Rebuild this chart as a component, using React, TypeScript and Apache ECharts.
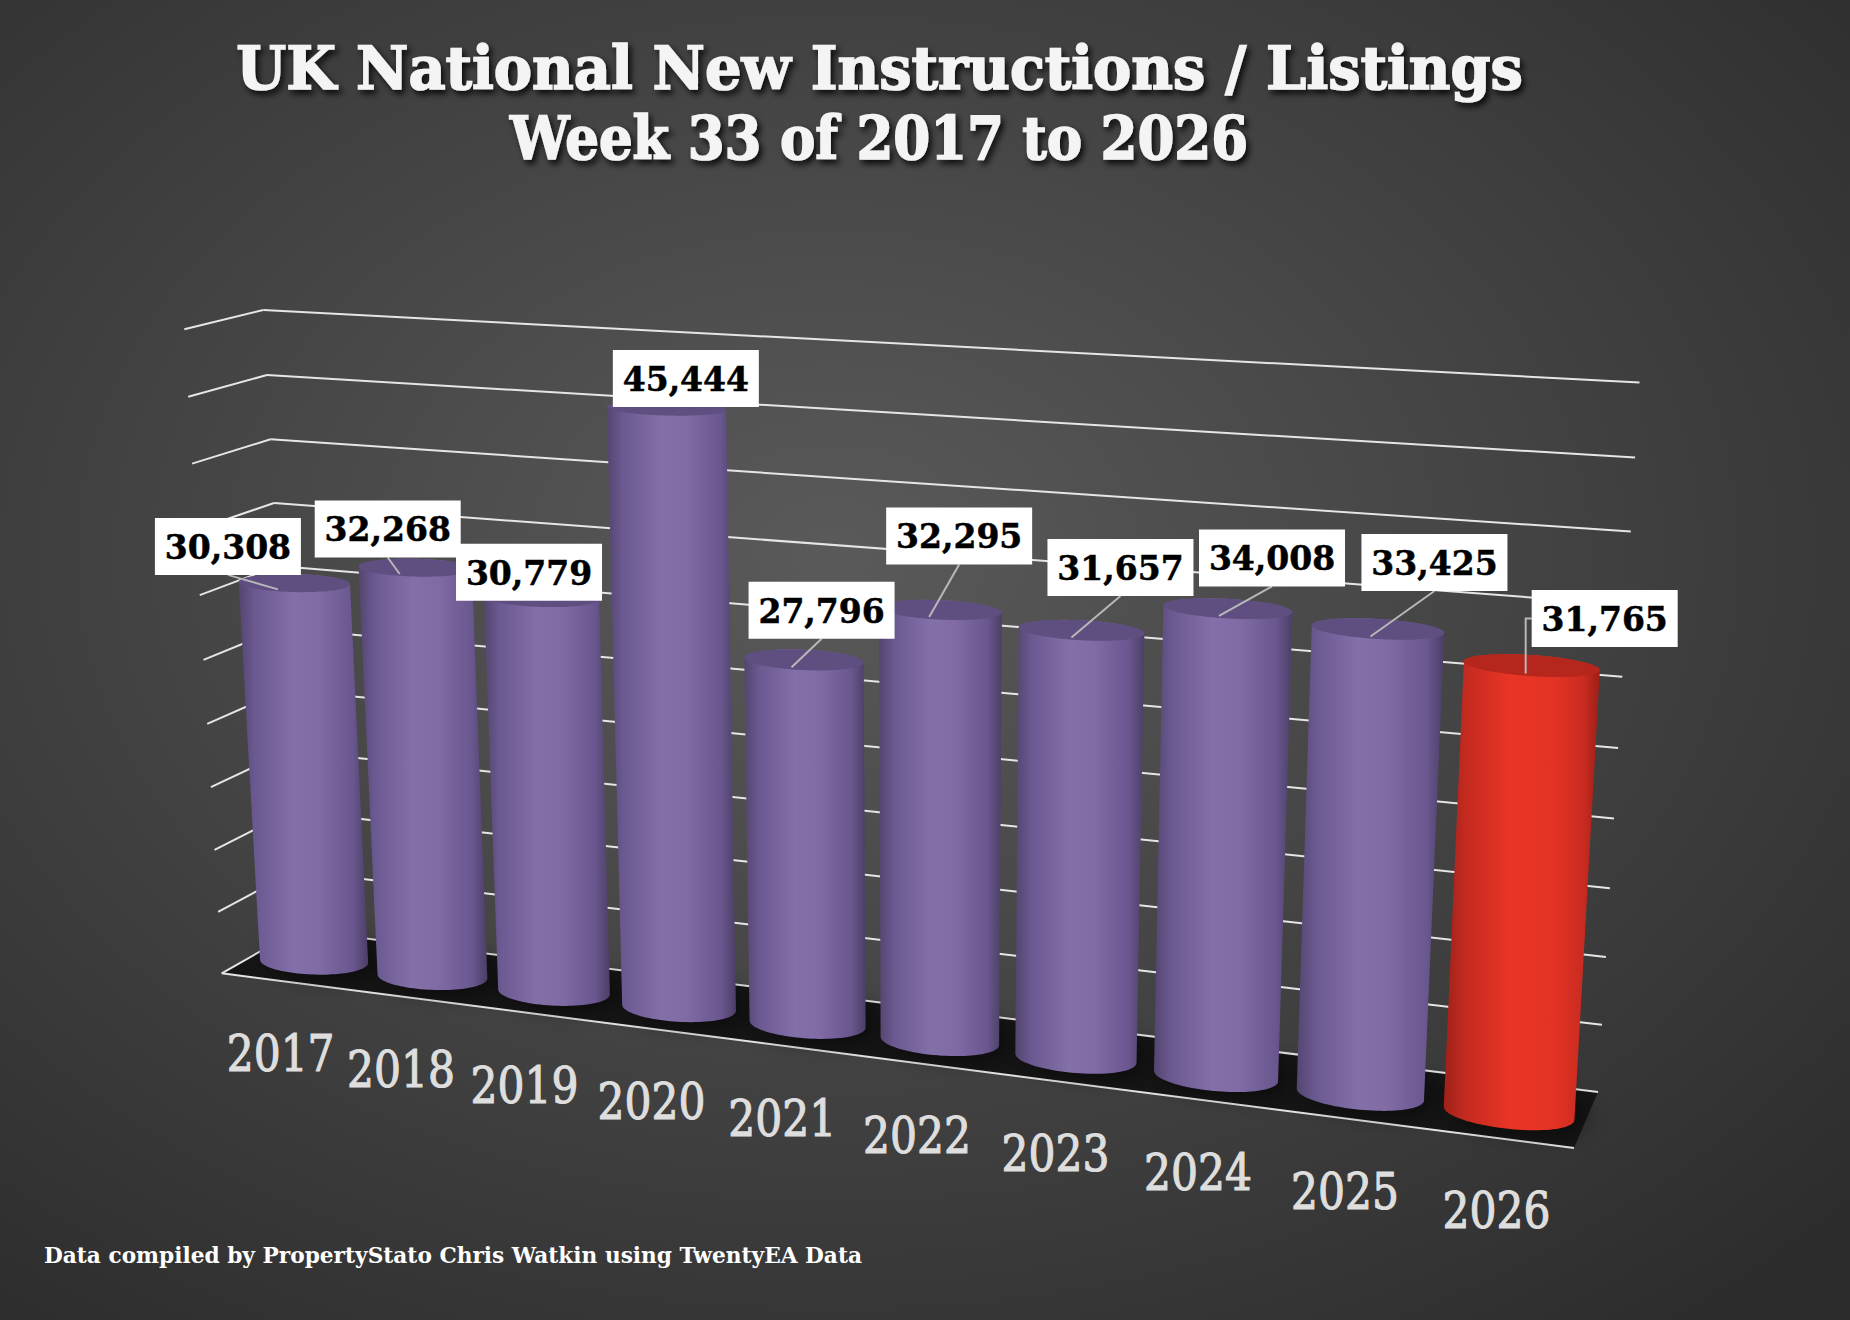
import React, { useEffect, useRef } from "react";
import * as echarts from "echarts";

// ---------- data ----------
const YEARS = ["2017", "2018", "2019", "2020", "2021", "2022", "2023", "2024", "2025", "2026"];
const LISTINGS = [30308, 32268, 30779, 45444, 27796, 32295, 31657, 34008, 33425, 31765];
const HIGHLIGHT_YEAR = "2026";
const Y_TICKS = [0, 5000, 10000, 15000, 20000, 25000, 30000, 35000, 40000, 45000, 50000];
const TITLE_LINES = ["UK National New Instructions / Listings", "Week 33 of 2017 to 2026"];
const SOURCE_NOTE = "Data compiled by PropertyStato Chris Watkin using TwentyEA Data";

// ---------- layout (perspective frame of the 3D plot) ----------
const W = 1850;
const H = 1320;
// corners: (u=0,v=0), (u=1,v=0), (u=1,v=1), (u=0,v=1)
const BACK_QUAD = [[298, 930], [1598, 1092], [1639.5, 382.6], [263.3, 310]];
const FRONT_QUAD = [[221.7, 973.3], [1574, 1148], [1616, 408.7], [184.3, 329.3]];
const BAR_FILL = 0.86;
const Z_CENTER = 0.45;
const R_DEPTH = 0.27;
// label box offsets from each bar's top anchor, and whether a leader line is drawn
const LABEL_SHIFT = [[-50, -43], [-12, -45], [2, -32], [33, -35], [30, -57], [30, -81], [49, -70], [53, -58], [64, -74], [79, -55]];
const LEADER_SHOWN = [true, true, false, false, true, true, true, true, true, true];
const BOX_W = 146;
const BOX_H = 57;

function quadMap(q: number[][]) {
  const [x0, y0] = q[0], [x1, y1] = q[1], [x2, y2] = q[2], [x3, y3] = q[3];
  const dx1 = x1 - x2, dx2 = x3 - x2, dy1 = y1 - y2, dy2 = y3 - y2;
  const sx = x0 - x1 + x2 - x3, sy = y0 - y1 + y2 - y3;
  let g = 0, h = 0;
  if (Math.abs(sx) > 1e-9 || Math.abs(sy) > 1e-9) {
    const den = dx1 * dy2 - dx2 * dy1;
    g = (sx * dy2 - dx2 * sy) / den;
    h = (dx1 * sy - sx * dy1) / den;
  }
  const a = x1 - x0 + g * x1, b = x3 - x0 + h * x3, c = x0;
  const d = y1 - y0 + g * y1, e = y3 - y0 + h * y3, f = y0;
  return (u: number, v: number) => {
    const w = g * u + h * v + 1;
    return [(a * u + b * v + c) / w, (d * u + e * v + f) / w];
  };
}
const backMap = quadMap(BACK_QUAD);
const frontMap = quadMap(FRONT_QUAD);
function proj(u: number, v: number, z: number) {
  const f = frontMap(u, v);
  const b = backMap(u, v);
  return [f[0] + (b[0] - f[0]) * z, f[1] + (b[1] - f[1]) * z];
}

function hull(points: number[][]) {
  const pts = points.slice().sort((p, q) => (p[0] === q[0] ? p[1] - q[1] : p[0] - q[0]));
  const cross = (o: number[], a: number[], b: number[]) => (a[0] - o[0]) * (b[1] - o[1]) - (a[1] - o[1]) * (b[0] - o[0]);
  const lower: number[][] = [];
  for (const p of pts) {
    while (lower.length >= 2 && cross(lower[lower.length - 2], lower[lower.length - 1], p) <= 0) lower.pop();
    lower.push(p);
  }
  const upper: number[][] = [];
  for (let i = pts.length - 1; i >= 0; i--) {
    const p = pts[i];
    while (upper.length >= 2 && cross(upper[upper.length - 2], upper[upper.length - 1], p) <= 0) upper.pop();
    upper.push(p);
  }
  upper.pop();
  lower.pop();
  return lower.concat(upper);
}

function fmt(n: number) {
  return String(n).replace(/\B(?=(\d{3})+(?!\d))/g, ",");
}

function measure(text: string, font: string) {
  const c = document.createElement("canvas").getContext("2d");
  if (!c) return text.length * 20;
  c.font = font;
  return c.measureText(text).width;
}

function toUV(params: any, pt: number[]) {
  const cs = params.coordSys;
  return [(pt[0] - cs.x) / cs.width, (cs.y + cs.height - pt[1]) / cs.height];
}

function cylinder(params: any, api: any) {
  const i = api.value(0);
  const val = api.value(1);
  const [u, v] = toUV(params, api.coord([i, val]));
  const ru = (api.size([1, 0])[0] / params.coordSys.width) * BAR_FILL / 2;
  const N = 96;
  const bottom: number[][] = [];
  const top: number[][] = [];
  for (let k = 0; k < N; k++) {
    const t = (2 * Math.PI * k) / N;
    const uu = u + ru * Math.cos(t);
    const zz = Z_CENTER + R_DEPTH * Math.sin(t);
    bottom.push(proj(uu, 0, zz));
    top.push(proj(uu, v, zz));
  }
  return { u, v, ru, bottom, top };
}

const PURPLE_BODY = [
  { offset: 0, color: "#54456f" },
  { offset: 0.12, color: "#6a5890" },
  { offset: 0.42, color: "#8470a9" },
  { offset: 0.62, color: "#806ba4" },
  { offset: 0.88, color: "#6a578f" },
  { offset: 1, color: "#4b3e66" },
];
const RED_BODY = [
  { offset: 0, color: "#9e2119" },
  { offset: 0.14, color: "#c42a1f" },
  { offset: 0.42, color: "#e83526" },
  { offset: 0.7, color: "#e43324" },
  { offset: 0.9, color: "#c82b20" },
  { offset: 1, color: "#9a1f17" },
];

export default function App() {
  const ref = useRef<HTMLDivElement>(null);

  useEffect(() => {
    if (!ref.current) return;
    const chart = echarts.init(ref.current, undefined, { renderer: "svg", width: W, height: H });

    const titleFont = "bold 59px 'DejaVu Serif'";
    const t1w = measure(TITLE_LINES[0], titleFont);
    const t2w = measure(TITLE_LINES[1], titleFont);
    const noteFont = "bold 23px 'DejaVu Serif'";
    const nw = measure(SOURCE_NOTE, noteFont);
    const yearFont = "50px 'DejaVu Serif'";
    const yw = measure("2021", yearFont);
    const yearScale = 108 / yw;

    const titleStyle = (text: string) => ({
      text,
      font: titleFont,
      fill: "#f4f4f4",
      stroke: "#f4f4f4",
      lineWidth: 1.6,
      align: "center",
      verticalAlign: "middle",
      textShadowColor: "rgba(0,0,0,0.85)",
      textShadowBlur: 6,
      textShadowOffsetX: 3,
      textShadowOffsetY: 4,
    });

    const option: any = {
      animation: false,
      grid: { left: 100, right: 100, top: 100, bottom: 100 },
      xAxis: { type: "category", data: YEARS, show: false },
      yAxis: { type: "value", min: 0, max: 50000, interval: 5000, show: false },
      graphic: {
        elements: [
          {
            type: "rect",
            z: -100,
            silent: true,
            shape: { x: 0, y: 0, width: W, height: H },
            style: {
              fill: {
                type: "radial",
                x: 0.45,
                y: 0.42,
                r: 0.75,
                colorStops: [
                  { offset: 0, color: "#5a5a5a" },
                  { offset: 1, color: "#2c2c2c" },
                ],
              },
            },
          },
          { type: "text", z: 100, x: 879.5, y: 68, scaleX: 1287 / t1w, style: titleStyle(TITLE_LINES[0]) },
          { type: "text", z: 100, x: 879, y: 138, scaleX: 738 / t2w, style: titleStyle(TITLE_LINES[1]) },
          {
            type: "text",
            z: 100,
            x: 44,
            y: 1255,
            scaleX: 818 / nw,
            style: {
              text: SOURCE_NOTE,
              font: noteFont,
              fill: "#ffffff",
              align: "left",
              verticalAlign: "middle",
            },
          },
        ],
      },
      series: [
        {
          type: "custom",
          name: "floor",
          z: 1,
          clip: false,
          silent: true,
          data: [[0, 0]],
          renderItem: (params: any, api: any) => {
            const v = toUV(params, api.coord([0, api.value(1)]))[1];
            const pts = [proj(0, v, 0), proj(1, v, 0), proj(1, v, 1), proj(0, v, 1)];
            return {
              type: "polygon",
              shape: { points: pts },
              style: { fill: "#151515" },
            };
          },
        },
        {
          type: "custom",
          name: "gridlines",
          z: 2,
          clip: false,
          silent: true,
          data: Y_TICKS.map((t) => [0, t]),
          renderItem: (params: any, api: any) => {
            const v = toUV(params, api.coord([0, api.value(1)]))[1];
            const ls = { stroke: "#e6e6e6", lineWidth: 2 };
            const a = proj(0, v, 0), b = proj(0, v, 1), c = proj(1, v, 1);
            const children: any[] = [
              { type: "line", shape: { x1: a[0], y1: a[1], x2: b[0], y2: b[1] }, style: ls },
              { type: "line", shape: { x1: b[0], y1: b[1], x2: c[0], y2: c[1] }, style: ls },
            ];
            if (api.value(1) === 0) {
              const d = proj(1, v, 0);
              children.push({ type: "line", shape: { x1: a[0], y1: a[1], x2: d[0], y2: d[1] }, style: ls });
            }
            return { type: "group", children };
          },
        },
        {
          type: "custom",
          name: "listings",
          z: 3,
          clip: false,
          data: LISTINGS.map((v, i) => [i, v]),
          renderItem: (params: any, api: any) => {
            const cy = cylinder(params, api);
            const red = YEARS[api.value(0)] === HIGHLIGHT_YEAR;
            const body = hull(cy.bottom.concat(cy.top));
            return {
              type: "group",
              children: [
                {
                  type: "polygon",
                  shape: { points: cy.bottom },
                  style: { fill: "rgba(0,0,0,0.9)", shadowBlur: 28, shadowColor: "rgba(0,0,0,1)", shadowOffsetX: 10, shadowOffsetY: -4 },
                },
                {
                  type: "polygon",
                  shape: { points: body },
                  style: {
                    fill: { type: "linear", x: 0, y: 0, x2: 1, y2: 0, colorStops: red ? RED_BODY : PURPLE_BODY },
                  },
                },
                {
                  type: "polygon",
                  shape: { points: cy.top },
                  style: { fill: red ? "#b5271d" : "#5f4e80" },
                },
              ],
            };
          },
        },
        {
          type: "custom",
          name: "values",
          z: 5,
          clip: false,
          silent: true,
          data: LISTINGS.map((v, i) => [i, v]),
          renderItem: (params: any, api: any) => {
            const idx = params.dataIndex;
            const cy = cylinder(params, api);
            const anchor = proj(cy.u, cy.v, Z_CENTER - R_DEPTH * 0.8);
            const sh = LABEL_SHIFT[idx];
            const cx = anchor[0] + sh[0];
            const cyy = anchor[1] + sh[1];
            const left = cx - BOX_W / 2;
            const bottomY = cyy + BOX_H / 2;
            const children: any[] = [];
            if (LEADER_SHOWN[idx]) {
              let pts: number[][];
              if (left > anchor[0]) {
                pts = [[left, cyy], [anchor[0], cyy], anchor];
              } else {
                pts = [[cx, bottomY], anchor];
              }
              children.push({
                type: "polyline",
                shape: { points: pts },
                style: { stroke: "#b8b8b8", lineWidth: 2, fill: null },
              });
            }
            children.push({
              type: "rect",
              shape: { x: left, y: cyy - BOX_H / 2, width: BOX_W, height: BOX_H },
              style: { fill: "#ffffff" },
            });
            children.push({
              type: "text",
              x: cx,
              y: cyy + 1,
              style: {
                text: fmt(api.value(1)),
                font: "bold 33px 'DejaVu Serif'",
                fill: "#000000",
                stroke: "#000000",
                lineWidth: 0.5,
                align: "center",
                verticalAlign: "middle",
              },
            });
            return { type: "group", children };
          },
        },
        {
          type: "custom",
          name: "years",
          z: 4,
          clip: false,
          silent: true,
          data: YEARS.map((y, i) => [i, 0]),
          renderItem: (params: any, api: any) => {
            const [u, v] = toUV(params, api.coord([api.value(0), 0]));
            const p = proj(u, v, 0);
            return {
              type: "text",
              x: p[0],
              y: p[1] + 73,
              scaleX: yearScale,
              style: {
                text: YEARS[params.dataIndex],
                font: yearFont,
                fill: "#dedede",
                stroke: "#dedede",
                lineWidth: 1.2,
                align: "center",
                verticalAlign: "middle",
              },
            };
          },
        },
      ],
    };

    chart.setOption(option);
    return () => chart.dispose();
  }, []);

  return (
    <div
      ref={ref}
      style={{ position: "absolute", left: 0, top: 0, width: W, height: H }}
    />
  );
}
